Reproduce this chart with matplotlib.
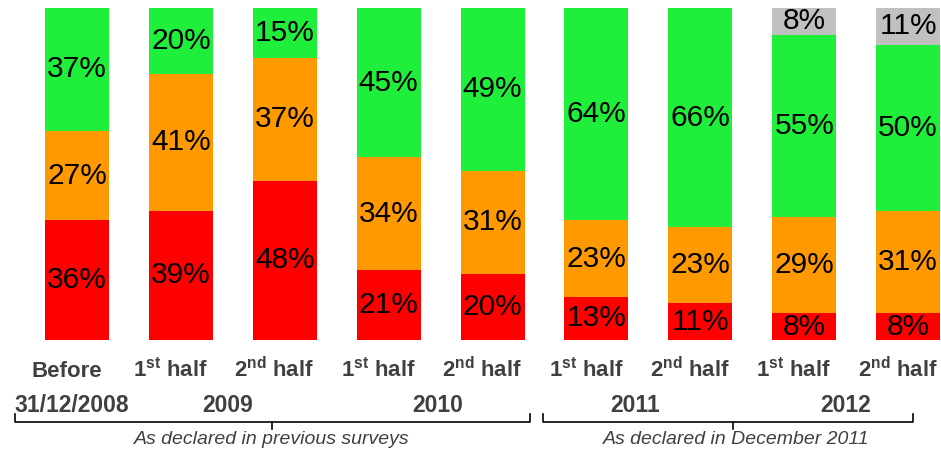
import matplotlib
matplotlib.use('Agg')
import matplotlib.pyplot as plt
import numpy as np

# Values per period (percent), bottom to top
red = [36, 39, 48, 21, 20, 13, 11, 8, 8]
orange = [27, 41, 37, 34, 31, 23, 23, 29, 31]
green = [37, 20, 15, 45, 49, 64, 66, 55, 50]
grey = [0, 0, 0, 0, 0, 0, 0, 8, 11]

top_labels = ['Before', '1$^{\\mathrm{st}}$ half', '2$^{\\mathrm{nd}}$ half',
              '1$^{\\mathrm{st}}$ half', '2$^{\\mathrm{nd}}$ half',
              '1$^{\\mathrm{st}}$ half', '2$^{\\mathrm{nd}}$ half',
              '1$^{\\mathrm{st}}$ half', '2$^{\\mathrm{nd}}$ half']
years = ['31/12/2008', '2009', '2010', '2011', '2012']
year_pos = [-0.05, 1.45, 3.47, 5.37, 7.4]
groups = ['As declared in previous surveys', 'As declared in December 2011']

colors = ['#ff0000', '#ff9900', '#1fee3a', '#c0c0c0']
plt.rcParams['font.family'] = ['Liberation Sans', 'DejaVu Sans']
plt.rcParams['mathtext.fontset'] = 'custom'
plt.rcParams['mathtext.rm'] = 'Liberation Sans:bold'
plt.rcParams['mathtext.bf'] = 'Liberation Sans:bold'

W, H = 941, 450
fig = plt.figure(figsize=(W / 100, H / 100), dpi=100)
ax = fig.add_axes([0, (H - 340) / H, 1, 332 / H])

x = np.arange(len(red))
bottom = np.zeros(len(red))
for series, col in zip([red, orange, green, grey], colors):
    vals = np.array(series, dtype=float)
    ax.bar(x, vals, bottom=bottom, width=0.616, color=col, linewidth=0)
    for xi, b, v in zip(x, bottom, vals):
        if v > 0:
            ax.text(xi, b + v / 2, f'{int(v)}%', ha='center', va='center',
                    fontsize=21.5, color='black')
    bottom += vals

ax.set_xlim(-0.741, 8.316)
ax.set_ylim(0, 100)
ax.axis('off')

txtcol = '#404040'
for xi, lab in zip(x, top_labels):
    ax.text(xi - 0.1, -11.1, lab, ha='center', va='baseline', fontsize=16,
            fontweight='bold', color=txtcol)
for xp, yr in zip(year_pos, years):
    ax.text(xp, -21.7, yr, ha='center', va='baseline', fontsize=16.5,
            fontweight='bold', color=txtcol)

# braces
def brace(x0, x1, xc):
    y_top = (H - 414) / H
    y_mid = (H - 422) / H
    y_bot = (H - 429) / H
    kw = dict(transform=fig.transFigure, color='black', lw=1.2)
    fig.add_artist(plt.Line2D([x0 / W, x0 / W, x1 / W, x1 / W],
                              [y_top, y_mid, y_mid, y_top], **kw))
    fig.add_artist(plt.Line2D([xc / W, xc / W], [y_mid, y_bot], **kw))

brace(15, 530, 272)
brace(543, 913, 733)
fig.text(272 / W, (H - 439) / H, groups[0], ha='center', va='center',
         fontsize=14, style='italic', color=txtcol)
fig.text(736 / W, (H - 439) / H, groups[1], ha='center', va='center',
         fontsize=14, style='italic', color=txtcol)

fig.savefig('out.png', dpi=100)
